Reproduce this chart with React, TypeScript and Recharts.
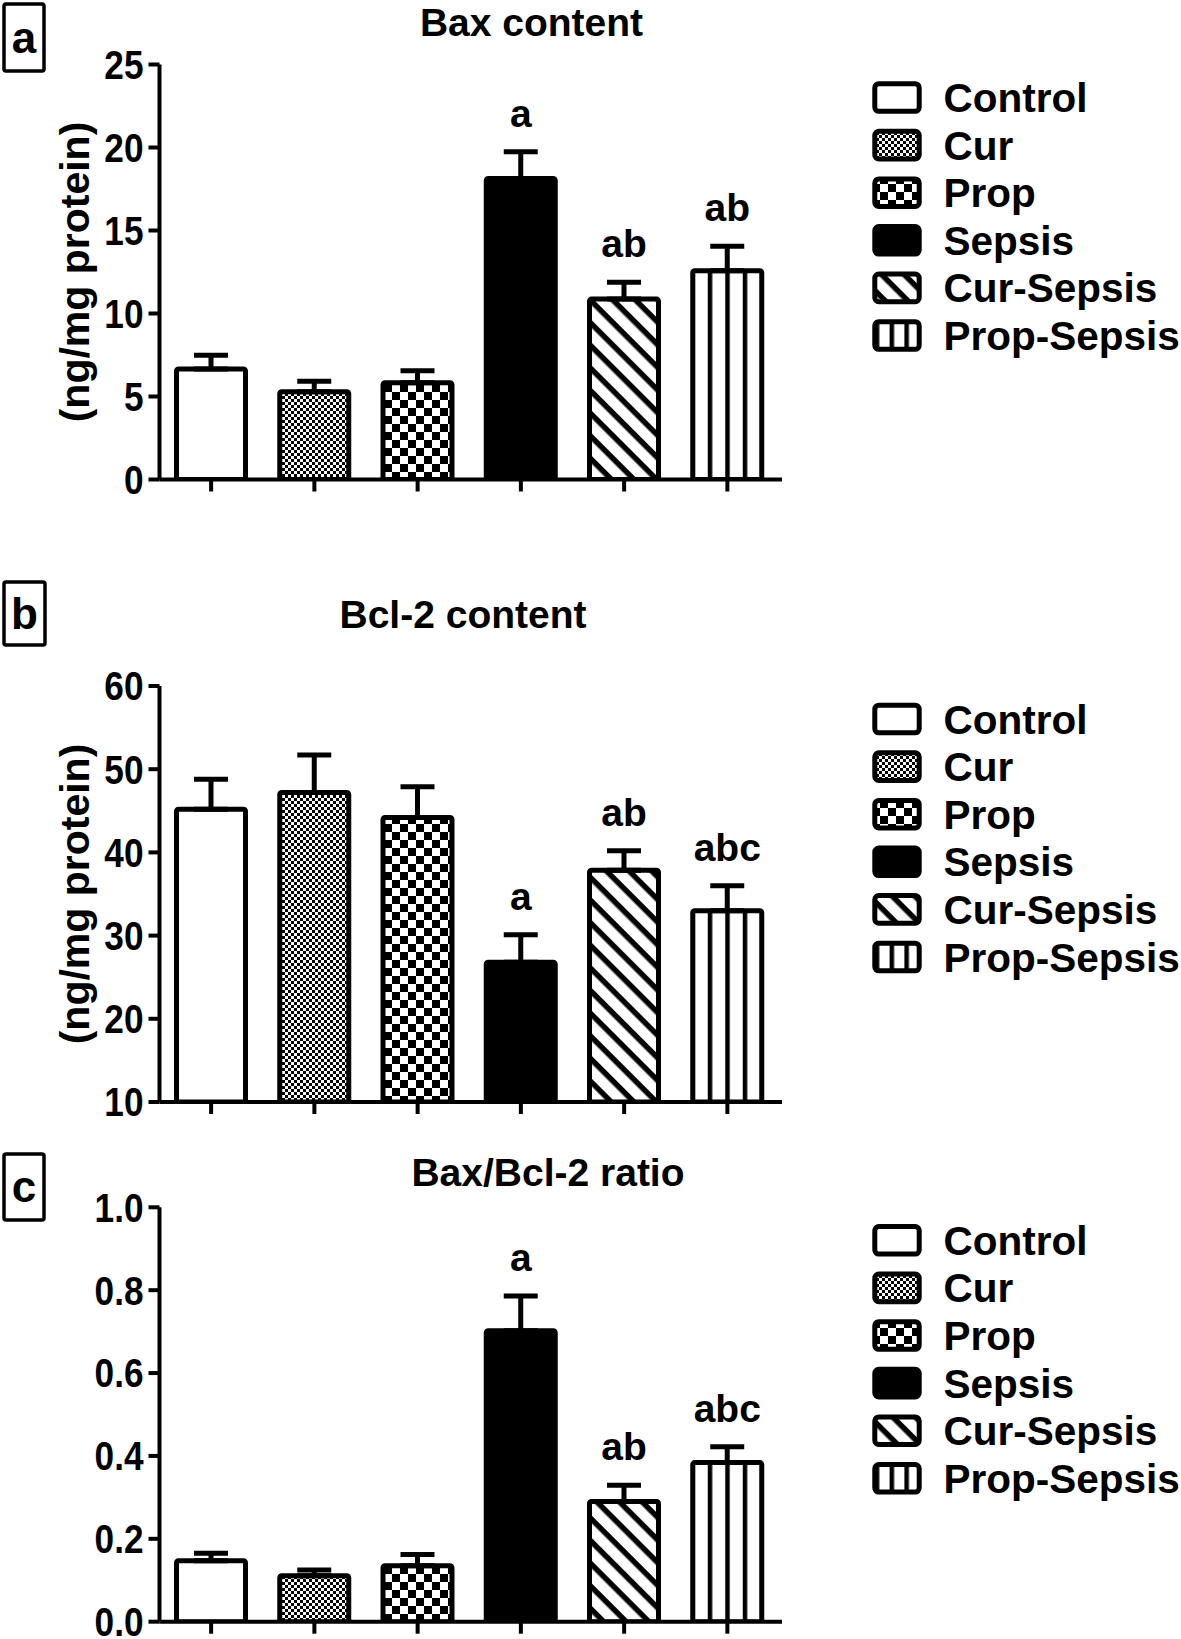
import React from 'react';
import { BarChart, Bar, XAxis, YAxis, ErrorBar, Cell, LabelList } from 'recharts';

const groups = ['Control', 'Cur', 'Prop', 'Sepsis', 'Cur-Sepsis', 'Prop-Sepsis'];

const baxMean = [6.66, 5.29, 5.83, 18.14, 10.87, 12.58];
const baxSem = [0.82, 0.63, 0.72, 1.61, 1.01, 1.47];
const baxLetters = ['', '', '', 'a', 'ab', 'ab'];
const baxTicks = [0, 5, 10, 15, 20, 25];

const bcl2Mean = [45.2, 47.2, 44.2, 26.8, 37.85, 33.0];
const bcl2Sem = [3.6, 4.5, 3.7, 3.3, 2.35, 3.0];
const bcl2Letters = ['', '', '', 'a', 'ab', 'abc'];
const bcl2Ticks = [10, 20, 30, 40, 50, 60];

const ratioMean = [0.147, 0.111, 0.135, 0.702, 0.29, 0.384];
const ratioSem = [0.018, 0.014, 0.027, 0.084, 0.039, 0.038];
const ratioLetters = ['', '', '', 'a', 'ab', 'abc'];
const ratioTicks = [0, 0.2, 0.4, 0.6, 0.8, 1.0];

const FONT = '"Liberation Sans", Arial, Helvetica, sans-serif';
const barFills = ['#ffffff', 'url(#pCur)', 'url(#pProp)', '#000000', 'url(#pDiag)', 'url(#pVert)'];
const legendFills = ['#ffffff', 'url(#pCur)', 'url(#pProp)', '#000000', 'url(#pDiag)', 'url(#pVertL)'];

const CHART_W = 800;
const MARGIN_LEFT = 40;
const YAXIS_W = 119.5;
const MARGIN_RIGHT = 18;
const XAXIS_H = 24;
const MARGIN_BOTTOM = 2;

type PanelProps = {
  top: number;
  plotTop: number;
  plotBottom: number;
  mean: number[];
  sem: number[];
  letters: string[];
  ticks: number[];
  fmt: (v: number) => string;
};

function makeLetterRenderer(mean: number[], sem: number[], base: number) {
  return (props: any) => {
    const vb = props.viewBox || props;
    const { x, y, width, height } = vb;
    const i = props.index;
    const v = props.value;
    if (!v) return null;
    const h = Math.abs(height);
    const topY = Math.min(y, y + height);
    const ppu = h / (mean[i] - base);
    const capY = topY - sem[i] * ppu;
    return (
      <text
        x={x + width / 2}
        y={capY - 25}
        textAnchor="middle"
        fontFamily={FONT}
        fontWeight={700}
        fontSize={39}
        fill="#000"
      >
        {v}
      </text>
    );
  };
}

function makeYTick(fmt: (v: number) => string) {
  return (props: any) => {
    const { x, y, payload } = props;
    return (
      <text
        x={0}
        y={0}
        transform={`translate(${x},${y}) scale(0.88,1)`}
        textAnchor="end"
        dy="0.36em"
        fontFamily={FONT}
        fontWeight={700}
        fontSize={40}
        fill="#000"
      >
        {fmt(payload.value)}
      </text>
    );
  };
}

function Panel({ top, plotTop, plotBottom, mean, sem, letters, ticks, fmt }: PanelProps) {
  const data = groups.map((g, i) => ({
    name: g,
    value: mean[i],
    err: [0, sem[i]],
    letter: letters[i],
  }));
  const height = plotBottom - top + XAXIS_H + MARGIN_BOTTOM;
  const base = ticks[0];
  return (
    <div style={{ position: 'absolute', left: 0, top }}>
      <BarChart
        width={CHART_W}
        height={height}
        data={data}
        margin={{ top: plotTop - top, right: MARGIN_RIGHT, bottom: MARGIN_BOTTOM, left: MARGIN_LEFT }}
        barCategoryGap={0}
      >
        <XAxis
          dataKey="name"
          height={XAXIS_H}
          axisLine={{ stroke: '#000', strokeWidth: 4 }}
          tickLine={{ stroke: '#000', strokeWidth: 4 }}
          tickSize={12}
          tickFormatter={() => ''}
          padding={{ left: 0, right: 3 }}
          interval={0}
        />
        <YAxis
          type="number"
          width={YAXIS_W}
          domain={[ticks[0], ticks[ticks.length - 1]]}
          ticks={ticks}
          interval={0}
          allowDataOverflow
          axisLine={{ stroke: '#000', strokeWidth: 4 }}
          tickLine={{ stroke: '#000', strokeWidth: 4 }}
          tickSize={11}
          tickMargin={5}
          tick={makeYTick(fmt)}
        />
        <Bar
          dataKey="value"
          barSize={69}
          stroke="#000"
          strokeWidth={5}
          radius={2}
          isAnimationActive={false}
        >
          {data.map((d, i) => (
            <Cell key={d.name} fill={barFills[i]} />
          ))}
          <ErrorBar
            dataKey="err"
            direction="y"
            width={17}
            stroke="#000"
            strokeWidth={5}
            isAnimationActive={false}
          />
          <LabelList dataKey="letter" content={makeLetterRenderer(mean, sem, base)} />
        </Bar>
      </BarChart>
    </div>
  );
}

function Legend({ startY }: { startY: number }) {
  return (
    <g>
      {groups.map((g, i) => {
        const cy = startY + i * 47.6;
        return (
          <g key={g}>
            <rect
              x={874.8}
              y={cy - 13.8}
              width={44.4}
              height={27.6}
              rx={4}
              ry={4}
              fill={legendFills[i]}
              stroke="#000"
              strokeWidth={5}
            />
            <text x={943.5} y={cy + 14.5} fontFamily={FONT} fontWeight={700} fontSize={40.5} fill="#000">
              {g}
            </text>
          </g>
        );
      })}
    </g>
  );
}

function BoxLabel({ x, y, w, h, letter }: { x: number; y: number; w: number; h: number; letter: string }) {
  return (
    <g>
      <rect x={x} y={y} width={w} height={h} rx={2} fill="#fff" stroke="#000" strokeWidth={3.5} />
      <text
        x={x + w / 2}
        y={y + h / 2 + 15}
        textAnchor="middle"
        fontFamily={FONT}
        fontWeight={700}
        fontSize={44}
        fill="#000"
      >
        {letter}
      </text>
    </g>
  );
}

function Title({ cx, y, text }: { cx: number; y: number; text: string }) {
  return (
    <text x={cx} y={y} textAnchor="middle" fontFamily={FONT} fontWeight={700} fontSize={39} fill="#000">
      {text}
    </text>
  );
}

function YLabel({ cy, text }: { cy: number; text: string }) {
  return (
    <text
      x={89}
      y={cy}
      transform={`rotate(-90 89 ${cy})`}
      textAnchor="middle"
      fontFamily={FONT}
      fontWeight={700}
      fontSize={41}
      fill="#000"
    >
      {text}
    </text>
  );
}

const fmtInt = (v: number) => String(v);
const fmtOne = (v: number) => v.toFixed(1);

export default function App() {
  return (
    <div style={{ position: 'absolute', left: 0, top: 0, width: 1181, height: 1639, background: '#fff', overflow: 'hidden' }}>
      <svg width={0} height={0} style={{ position: 'absolute' }}>
        <defs>
          <pattern id="pCur" patternUnits="userSpaceOnUse" width={6} height={6}>
            <rect x={0} y={0} width={6} height={6} fill="#fff" />
            <rect x={0} y={0} width={3} height={3} fill="#000" />
            <rect x={3} y={3} width={3} height={3} fill="#000" />
          </pattern>
          <pattern id="pProp" patternUnits="userSpaceOnUse" width={16} height={16}>
            <rect x={0} y={0} width={16} height={16} fill="#fff" />
            <rect x={0} y={0} width={8} height={8} fill="#000" />
            <rect x={8} y={8} width={8} height={8} fill="#000" />
          </pattern>
          <pattern id="pDiag" patternUnits="userSpaceOnUse" width={16} height={16} patternTransform="rotate(45)">
            <rect x={0} y={0} width={16} height={16} fill="#fff" />
            <rect x={0} y={0} width={16} height={5.5} fill="#000" />
          </pattern>
          <pattern id="pVert" patternUnits="userSpaceOnUse" width={17.5} height={4000}>
            <rect x={0} y={0} width={17.5} height={4000} fill="#fff" />
            <rect x={7.75} y={0} width={4.5} height={4000} fill="#000" />
          </pattern>
          <pattern id="pVertL" patternUnits="objectBoundingBox" patternContentUnits="userSpaceOnUse" width={1 / 3} height={1}>
            <rect x={0} y={0} width={40} height={200} fill="#fff" />
            <rect x={0} y={0} width={4.5} height={200} fill="#000" />
          </pattern>
        </defs>
      </svg>

      <Panel top={0} plotTop={64.5} plotBottom={479.5} mean={baxMean} sem={baxSem} letters={baxLetters} ticks={baxTicks} fmt={fmtInt} />
      <Panel top={600} plotTop={686} plotBottom={1102} mean={bcl2Mean} sem={bcl2Sem} letters={bcl2Letters} ticks={bcl2Ticks} fmt={fmtInt} />
      <Panel top={1150} plotTop={1207.3} plotBottom={1621.7} mean={ratioMean} sem={ratioSem} letters={ratioLetters} ticks={ratioTicks} fmt={fmtOne} />

      <svg width={1181} height={1639} style={{ position: 'absolute', left: 0, top: 0, pointerEvents: 'none' }}>
        <BoxLabel x={4} y={4} w={40} h={67} letter="a" />
        <BoxLabel x={4} y={582} w={41} h={63} letter="b" />
        <BoxLabel x={4} y={1154} w={40} h={66} letter="c" />

        <Title cx={531.5} y={36} text="Bax content" />
        <Title cx={463} y={628} text="Bcl-2 content" />
        <Title cx={548} y={1186} text="Bax/Bcl-2 ratio" />

        <YLabel cy={272} text="(ng/mg protein)" />
        <YLabel cy={894} text="(ng/mg protein)" />

        <Legend startY={97.5} />
        <Legend startY={719} />
        <Legend startY={1240.3} />
      </svg>
    </div>
  );
}
